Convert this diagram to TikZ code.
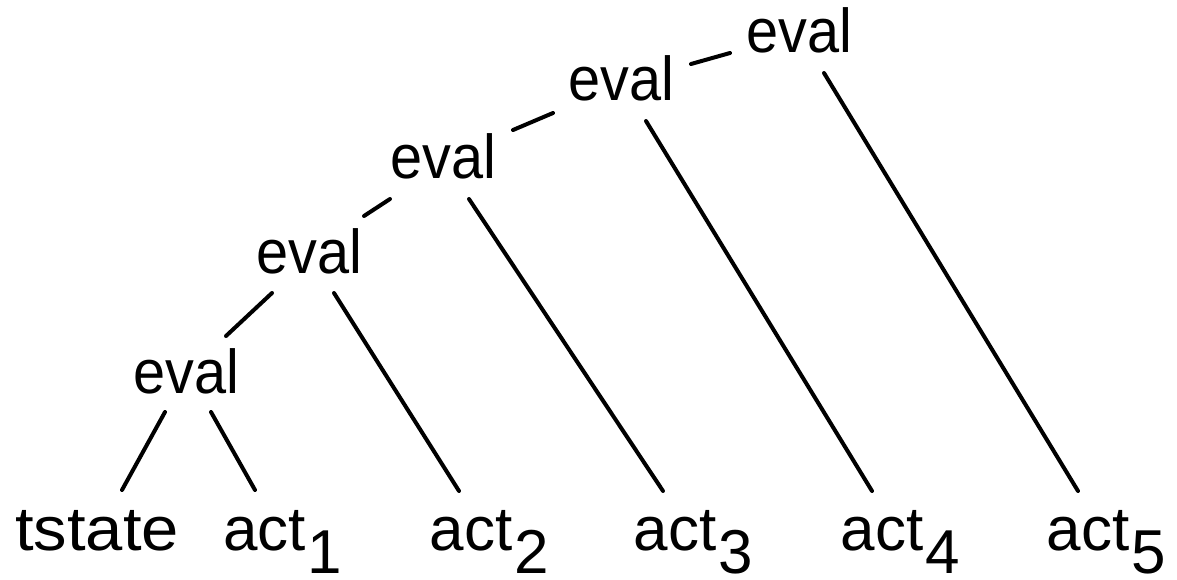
\documentclass[tikz,border=0pt]{standalone}
\usepackage{fontspec}
\setmainfont{Liberation Sans}
\begin{document}
\begin{tikzpicture}[x=1pt,y=-1pt,
  lbl/.style={anchor=base,inner sep=0pt,font=\fontsize{62}{70}\selectfont},
  edge/.style={line width=4pt,line cap=round}]
\path[use as bounding box] (0,0) rectangle (1177,579);
\newcommand{\actsub}[1]{act\rlap{\kern2pt\raisebox{-23pt}{#1}}}
\newcommand{\evaltext}{\scalebox{0.93}[1]{eval}}
\node[lbl] (e1) at (186,393) {\evaltext};
\node[lbl] (e2) at (309,273) {\evaltext};
\node[lbl] (e3) at (443,178) {\evaltext};
\node[lbl] (e4) at (621,100) {\evaltext};
\node[lbl] (e5) at (799,52) {\evaltext};
\node[lbl] (ts) at (97,550) {\scalebox{1.08}[1]{tstate}};
\node[lbl] (a1) at (264.5,550) {\actsub{1}};
\node[lbl] (a2) at (471,550) {\actsub{2}};
\node[lbl] (a3) at (675,550) {\actsub{3}};
\node[lbl] (a4) at (882,550) {\actsub{4}};
\node[lbl] (a5) at (1088,550) {\actsub{5}};
\draw[edge] ([shift={(-21,19)}]e1.base) -- ([shift={(25,-60)}]ts.base);
\draw[edge] ([shift={(25,19)}]e1.base) -- ([shift={(-9.5,-60)}]a1.base);
\draw[edge] ([shift={(40,-57)}]e1.base) -- ([shift={(-37,20)}]e2.base);
\draw[edge] ([shift={(25,20)}]e2.base) -- ([shift={(-12,-59)}]a2.base);
\draw[edge] ([shift={(55,-57)}]e2.base) -- ([shift={(-53,21)}]e3.base);
\draw[edge] ([shift={(26,21)}]e3.base) -- ([shift={(-12,-59)}]a3.base);
\draw[edge] ([shift={(70,-48)}]e3.base) -- ([shift={(-68,13)}]e4.base);
\draw[edge] ([shift={(25,21)}]e4.base) -- ([shift={(-10,-59)}]a4.base);
\draw[edge] ([shift={(70,-36)}]e4.base) -- ([shift={(-69,1)}]e5.base);
\draw[edge] ([shift={(25,21)}]e5.base) -- ([shift={(-10,-59)}]a5.base);
\end{tikzpicture}
\end{document}
